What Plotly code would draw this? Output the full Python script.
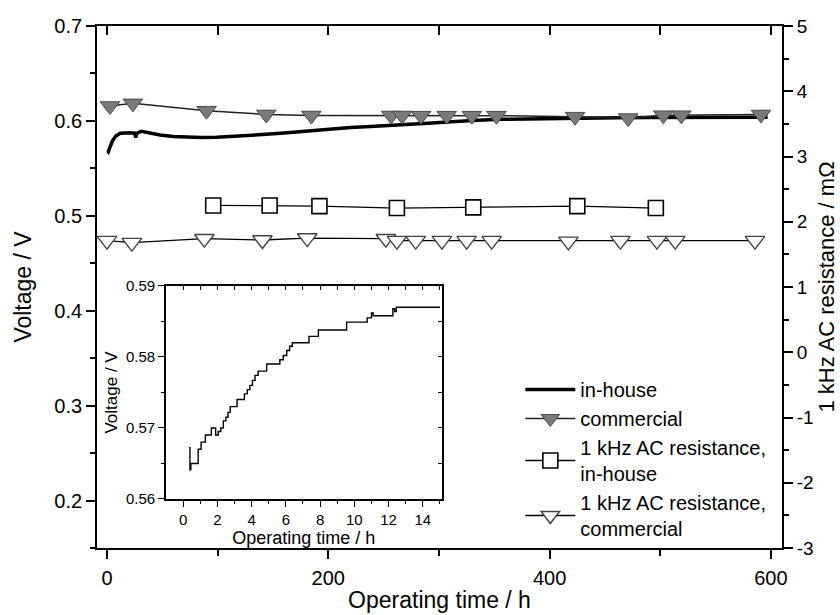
import plotly.graph_objects as go

# ---- main panel: cell voltage (left axis) ----
inhouse_t = [0.3, 1, 2, 3, 5, 8, 12, 20, 25, 26, 27, 31, 40, 48, 60, 72, 85, 99, 110, 120,
             135, 144, 160, 174, 185, 192, 198, 204, 220, 234, 250, 265, 278, 290, 311, 330, 356,
             380, 402, 430, 461, 490, 522, 560, 597]
inhouse_v = [0.566, 0.5665, 0.570, 0.573, 0.579, 0.584, 0.587, 0.5875, 0.5872, 0.5825, 0.587,
             0.589, 0.587, 0.5851, 0.5835, 0.5827, 0.5825, 0.5827, 0.5833, 0.584, 0.585, 0.5859,
             0.5872, 0.5886, 0.5892, 0.5900, 0.5912, 0.5920, 0.593, 0.5939, 0.5952, 0.596, 0.5967,
             0.5975, 0.5992, 0.6005, 0.6017, 0.6022, 0.6027, 0.603, 0.6034, 0.6036, 0.6038,
             0.6038, 0.6038]

commercial_t = [2.7, 23.4, 90, 144, 184.7, 256.8, 266.7, 283.8, 307, 329.7, 352, 423, 471,
                502.7, 519, 591]
commercial_v = [0.6157, 0.6185, 0.6108, 0.6068, 0.6057, 0.6057, 0.6057, 0.6055, 0.6055,
                0.6055, 0.6055, 0.6045, 0.603, 0.606, 0.606, 0.6068]

# ---- main panel: 1 kHz AC resistance (right axis) ----
res_inhouse_t = [96, 147, 192, 262, 331, 425, 496]
res_inhouse_r = [2.25, 2.25, 2.24, 2.21, 2.22, 2.24, 2.21]

res_comm_t = [0, 22.5, 88, 140.5, 181, 252, 262, 279, 302.7, 325, 347.7, 417, 464, 497,
              513.5, 585.6]
res_comm_r = [1.71, 1.68, 1.74, 1.72, 1.75, 1.74, 1.71, 1.71, 1.71, 1.71, 1.71, 1.70, 1.71,
              1.71, 1.71, 1.71]

# ---- inset: first hours of the in-house cell ----
inset_t = [0.35, 0.40, 0.45, 0.88, 1.05, 1.30, 1.65, 1.90, 2.05, 2.20, 2.35, 2.50, 2.62, 2.75,
           3.15, 3.58, 3.75, 3.90, 4.05, 4.20, 4.38, 4.88, 5.65, 5.85, 6.05, 6.22, 6.38, 7.35,
           7.90, 9.55, 10.75, 11.00, 11.10, 12.25, 12.35, 12.45, 15.0]
inset_v = [0.5672, 0.5641, 0.5650, 0.5670, 0.5680, 0.5690, 0.5700, 0.5690, 0.5695, 0.5700,
           0.5710, 0.5715, 0.5722, 0.5730, 0.5740, 0.5748, 0.5754, 0.5760, 0.5767, 0.5774,
           0.5780, 0.5790, 0.5796, 0.5802, 0.5809, 0.5815, 0.5820, 0.5829, 0.5838, 0.5849,
           0.5855, 0.5862, 0.5858, 0.5868, 0.5864, 0.5870, 0.5870]

main_x_ticks = [0, 200, 400, 600]
main_x_minor = [100, 300, 500]
left_y_ticks = [0.2, 0.3, 0.4, 0.5, 0.6, 0.7]
left_y_minor = [0.15, 0.25, 0.35, 0.45, 0.55, 0.65]
right_y_ticks = [-3, -2, -1, 0, 1, 2, 3, 4, 5]
right_y_labels = ["-3", "-2", "-1", "0", "1", "2", "3", "4", "5"]
inset_x_ticks = [0, 2, 4, 6, 8, 10, 12, 14]
inset_x_minor = [1, 3, 5, 7, 9, 11, 13, 15]
inset_y_ticks = [0.56, 0.57, 0.58, 0.59]
inset_y_minor = [0.565, 0.575, 0.585]

FONT = "Liberation Sans, Arial, sans-serif"
BLACK = "black"

fig = go.Figure()

fig.add_trace(go.Scatter(x=inhouse_t, y=inhouse_v, mode="lines", name="in-house",
                         line=dict(color=BLACK, width=3.5), xaxis="x", yaxis="y"))
fig.add_trace(go.Scatter(x=commercial_t, y=commercial_v, mode="lines+markers", name="commercial",
                         line=dict(color="#222", width=1.5),
                         marker=dict(symbol="triangle-down", size=17, color="#7a7a7a",
                                     line=dict(color="#4a4a4a", width=1)),
                         xaxis="x", yaxis="y"))
fig.add_trace(go.Scatter(x=res_inhouse_t, y=res_inhouse_r, mode="lines+markers",
                         name="1 kHz AC resistance,<br>in-house",
                         line=dict(color=BLACK, width=1.3),
                         marker=dict(symbol="square", size=15, color="white",
                                     line=dict(color=BLACK, width=1.6)),
                         xaxis="x", yaxis="y2"))
fig.add_trace(go.Scatter(x=res_comm_t, y=res_comm_r, mode="lines+markers",
                         name="1 kHz AC resistance,<br>commercial",
                         line=dict(color=BLACK, width=1.3),
                         marker=dict(symbol="triangle-down", size=17, color="white",
                                     line=dict(color="#444", width=1.4)),
                         xaxis="x", yaxis="y2"))
fig.add_trace(go.Scatter(x=inset_t, y=inset_v, mode="lines", showlegend=False,
                         line=dict(color=BLACK, width=1.4, shape="hv"),
                         xaxis="x4", yaxis="y4"))
# helper traces so the mirrored tick axes are drawn
for xa, ya in [("x3", "y"), ("x5", "y4"), ("x4", "y5")]:
    fig.add_trace(go.Scatter(x=[None], y=[None], mode="lines", showlegend=False,
                             hoverinfo="skip", xaxis=xa, yaxis=ya))

ax_common = dict(showgrid=False, zeroline=False, showline=True, linecolor=BLACK,
                 tickcolor=BLACK, ticks="outside", automargin=False)

fig.update_layout(
    width=840, height=615,
    margin=dict(l=97, r=58, t=26, b=67),
    paper_bgcolor="white", plot_bgcolor="white",
    font=dict(family=FONT, color=BLACK),
    xaxis=dict(**ax_common, domain=[0, 1], anchor="y", range=[-9, 610],
               tickvals=main_x_ticks, ticklen=9, tickwidth=1.5, linewidth=1.8,
               minor=dict(tickvals=main_x_minor, ticks="outside", ticklen=6, tickwidth=1.5,
                          tickcolor=BLACK),
               tickfont=dict(size=20), ticklabelstandoff=2,
               title=dict(text="Operating time / h", font=dict(size=23), standoff=4)),
    xaxis3=dict(showgrid=False, zeroline=False, showline=True, linecolor=BLACK, linewidth=1.8,
                overlaying="x", side="top", anchor="y", range=[-9, 610], automargin=False,
                tickvals=[0, 100, 200, 300, 400, 500, 600], ticks="inside", ticklen=9,
                tickwidth=1.5, tickcolor=BLACK, showticklabels=False),
    yaxis=dict(**ax_common, domain=[0, 1], anchor="x", range=[0.15, 0.7],
               tickvals=left_y_ticks, tickformat=".1f", ticklen=9, tickwidth=1.5,
               linewidth=1.8,
               minor=dict(tickvals=left_y_minor, ticks="outside", ticklen=5, tickwidth=1.5,
                          tickcolor=BLACK),
               tickfont=dict(size=20),
               title=dict(text="Voltage / V", font=dict(size=23), standoff=16)),
    yaxis2=dict(**ax_common, overlaying="y", side="right", anchor="x", range=[-3, 5],
                tickvals=right_y_ticks, ticktext=right_y_labels, ticklen=9, tickwidth=1.5,
                linewidth=1.8,
                minor=dict(dtick=0.5, ticks="outside", ticklen=5, tickwidth=1.5,
                           tickcolor=BLACK),
                tickfont=dict(size=19),
                title=dict(text="1 kHz AC resistance / mΩ", font=dict(size=22), standoff=2)),
    xaxis4=dict(**ax_common, domain=[0.1007, 0.5032], anchor="y4", range=[-1, 15.1],
                tickvals=inset_x_ticks, ticklen=6, tickwidth=1.2, linewidth=1.5,
                minor=dict(tickvals=inset_x_minor, ticks="outside", ticklen=3, tickwidth=1,
                           tickcolor=BLACK),
                tickfont=dict(size=15),
                title=dict(text="Operating time / h", font=dict(size=18), standoff=2)),
    xaxis5=dict(showgrid=False, zeroline=False, showline=True, linecolor=BLACK, linewidth=1.5,
                overlaying="x4", side="top", anchor="y4", range=[-1, 15.1], automargin=False,
                tickvals=list(range(0, 16)), ticks="inside", ticklen=4, tickwidth=1,
                tickcolor=BLACK, showticklabels=False),
    yaxis4=dict(**ax_common, domain=[0.094, 0.502], anchor="x4", range=[0.56, 0.59],
                tickvals=inset_y_ticks, tickformat=".2f", ticklen=6, tickwidth=1.2,
                linewidth=1.5,
                minor=dict(tickvals=inset_y_minor, ticks="outside", ticklen=3, tickwidth=1,
                           tickcolor=BLACK),
                tickfont=dict(size=15),
                title=dict(text="Voltage / V", font=dict(size=17), standoff=4)),
    yaxis5=dict(showgrid=False, zeroline=False, showline=True, linecolor=BLACK, linewidth=1.5,
                overlaying="y4", side="right", anchor="x4", range=[0.56, 0.59], automargin=False,
                tickvals=[0.56, 0.565, 0.57, 0.575, 0.58, 0.585, 0.59], ticks="inside",
                ticklen=4, tickwidth=1, tickcolor=BLACK, showticklabels=False),
    legend=dict(x=0.618, y=0.341, xanchor="left", yanchor="top", bgcolor="rgba(0,0,0,0)",
                font=dict(size=20), itemwidth=50, tracegroupgap=0),
    showlegend=True,
)

fig.write_html("out.html")
